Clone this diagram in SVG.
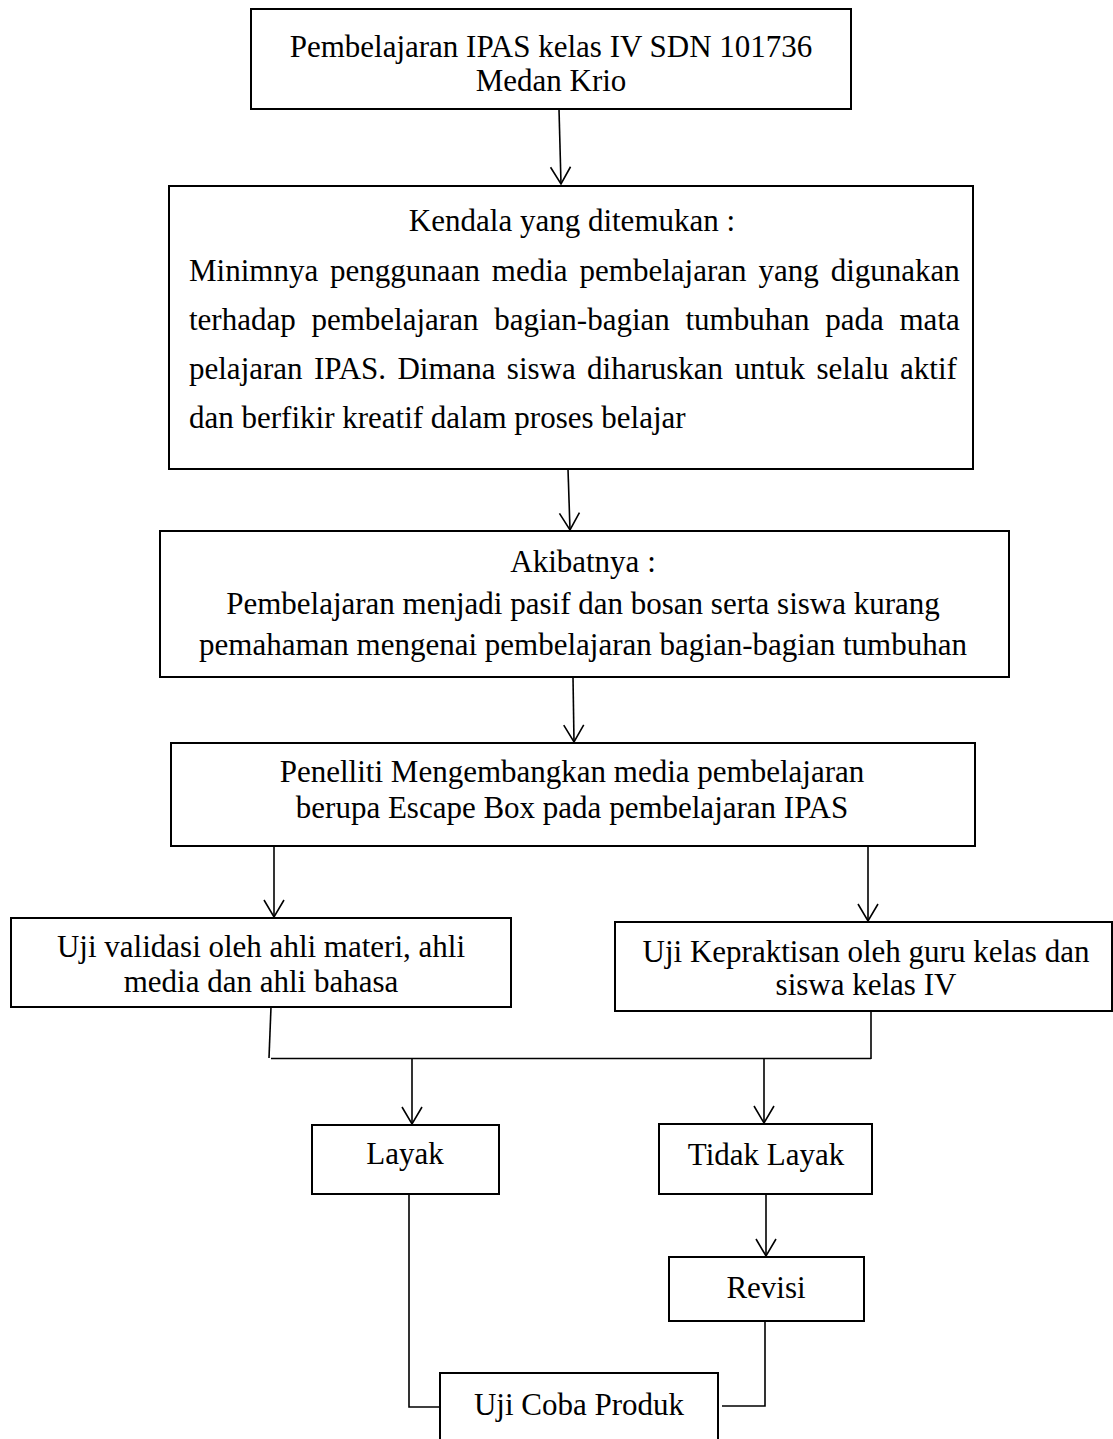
<svg xmlns="http://www.w3.org/2000/svg" width="1113" height="1439" viewBox="0 0 1113 1439">
<style>
  .box { fill: #ffffff; stroke: #000000; stroke-width: 2; }
  .t { font-family: "Liberation Serif", "Times New Roman", serif; font-size: 31px; fill: #000000; }
  .c { text-anchor: middle; }
  .ln { fill: none; stroke: #000000; stroke-width: 1.6; }
</style>
<defs>
  <marker id="arr" markerUnits="userSpaceOnUse" markerWidth="40" markerHeight="40" viewBox="-20 -20 40 40" refX="0" refY="0" orient="auto" overflow="visible">
    <path d="M-17,-10 L0,0 L-17,10" fill="none" stroke="#000000" stroke-width="1.6"/>
  </marker>
</defs>
<rect width="1113" height="1439" fill="#ffffff"/>

<g id="connectors">
  <line class="ln" x1="559" y1="109" x2="561" y2="184" marker-end="url(#arr)"/>
  <line class="ln" x1="568" y1="469" x2="570" y2="530" marker-end="url(#arr)"/>
  <line class="ln" x1="573" y1="677" x2="574" y2="742" marker-end="url(#arr)"/>
  <line class="ln" x1="274" y1="846" x2="274" y2="917" marker-end="url(#arr)"/>
  <line class="ln" x1="868" y1="846" x2="868" y2="921" marker-end="url(#arr)"/>
  <line class="ln" x1="271" y1="1007" x2="269" y2="1058"/>
  <line class="ln" x1="871" y1="1011" x2="871" y2="1059"/>
  <line class="ln" x1="271" y1="1058.5" x2="871" y2="1058.5"/>
  <line class="ln" x1="412" y1="1059" x2="412" y2="1124" marker-end="url(#arr)"/>
  <line class="ln" x1="764" y1="1059" x2="764" y2="1123" marker-end="url(#arr)"/>
  <line class="ln" x1="766" y1="1194" x2="766" y2="1256" marker-end="url(#arr)"/>
  <polyline class="ln" points="409,1194 409,1407 440,1407"/>
  <polyline class="ln" points="765,1321 765,1406 722,1406"/>
</g>

<g id="n1">
  <rect class="box" x="251" y="9" width="600" height="100"/>
  <text class="t c" x="551" y="57">Pembelajaran IPAS kelas IV SDN 101736</text>
  <text class="t c" x="551" y="91">Medan Krio</text>
</g>

<g id="n2">
  <rect class="box" x="169" y="186" width="804" height="283"/>
  <text class="t c" x="572" y="231">Kendala yang ditemukan :</text>
  <text class="t" x="189" y="280.5" word-spacing="4.2">Minimnya penggunaan media pembelajaran yang digunakan</text>
  <text class="t" x="189" y="330" word-spacing="8">terhadap pembelajaran bagian-bagian tumbuhan pada mata</text>
  <text class="t" x="189" y="379" word-spacing="3.6">pelajaran IPAS. Dimana siswa diharuskan untuk selalu aktif</text>
  <text class="t" x="189" y="428">dan berfikir kreatif dalam proses belajar</text>
</g>

<g id="n3">
  <rect class="box" x="160" y="531" width="849" height="146"/>
  <text class="t c" x="583" y="572">Akibatnya :</text>
  <text class="t c" x="583" y="614">Pembelajaran menjadi pasif dan bosan serta siswa kurang</text>
  <text class="t c" x="583" y="655">pemahaman mengenai pembelajaran bagian-bagian tumbuhan</text>
</g>

<g id="n4">
  <rect class="box" x="171" y="743" width="804" height="103"/>
  <text class="t c" x="572" y="782">Penelliti Mengembangkan media pembelajaran</text>
  <text class="t c" x="572" y="818">berupa Escape Box pada pembelajaran IPAS</text>
</g>

<g id="n5">
  <rect class="box" x="11" y="918" width="500" height="89"/>
  <text class="t c" x="261" y="957">Uji validasi oleh ahli materi, ahli</text>
  <text class="t c" x="261" y="992">media dan ahli bahasa</text>
</g>

<g id="n6">
  <rect class="box" x="615" y="922" width="497" height="89"/>
  <text class="t c" x="866" y="962">Uji Kepraktisan oleh guru kelas dan</text>
  <text class="t c" x="866" y="995">siswa kelas IV</text>
</g>

<g id="n7">
  <rect class="box" x="312" y="1125" width="187" height="69"/>
  <text class="t c" x="405" y="1164">Layak</text>
</g>

<g id="n8">
  <rect class="box" x="659" y="1124" width="213" height="70"/>
  <text class="t c" x="766" y="1165">Tidak Layak</text>
</g>

<g id="n9">
  <rect class="box" x="669" y="1257" width="195" height="64"/>
  <text class="t c" x="766" y="1298">Revisi</text>
</g>

<g id="n10">
  <rect class="box" x="440" y="1373" width="278" height="80"/>
  <text class="t c" x="579" y="1415">Uji Coba Produk</text>
</g>
</svg>
